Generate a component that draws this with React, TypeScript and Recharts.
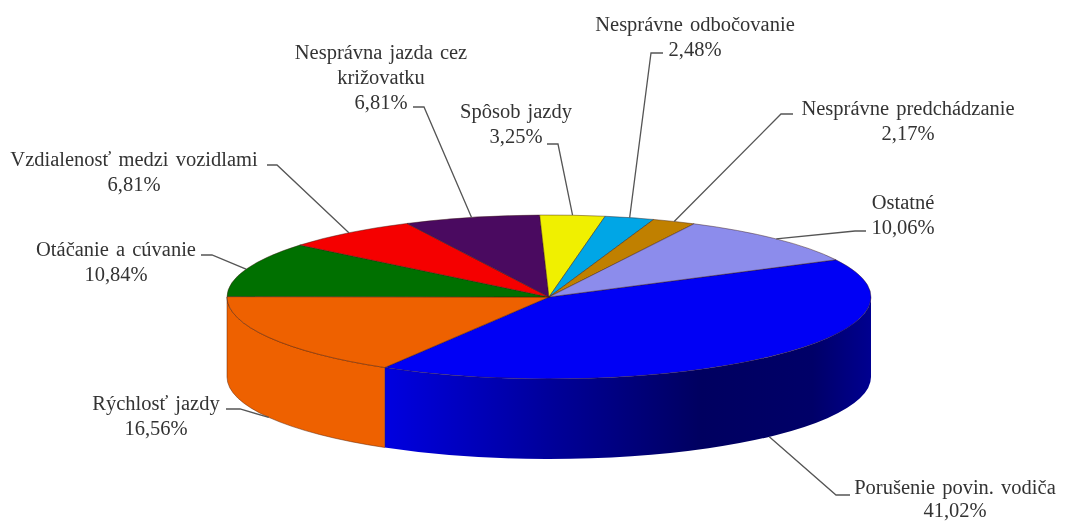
import React from "react";
import { PieChart, Pie } from "recharts";

const categories = [
  "Porušenie povin. vodiča",
  "Rýchlosť jazdy",
  "Otáčanie a cúvanie",
  "Vzdialenosť medzi vozidlami",
  "Nesprávna jazda cez|križovatku",
  "Spôsob jazdy",
  "Nesprávne odbočovanie",
  "Nesprávne predchádzanie",
  "Ostatné",
];
const shares = [41.02, 16.56, 10.84, 6.81, 6.81, 3.25, 2.48, 2.17, 10.06];
const shareLabels = ["41,02%", "16,56%", "10,84%", "6,81%", "6,81%", "3,25%", "2,48%", "2,17%", "10,06%"];
const topColors = ["#0000f5", "#ee6100", "#007000", "#f50000", "#4a0a60", "#f0f000", "#00a6e6", "#c08000", "#8c8cec"];

// label layout: text centre, first baseline, line step, then the elbow of the leader line
const labelCentreX = [955, 156, 116, 134, 381, 516, 695, 908, 903];
const labelFirstBaseline = [494, 410, 256, 166, 59, 118, 31, 115, 209];
const labelLineStep = [23, 25, 25, 25, 25, 25, 25, 25, 25];
const elbowX = [836, 240, 212, 277, 424, 558, 651, 781, 855];
const elbowY = [495, 409, 255, 165, 107, 144, 53, 114, 231];
const stubX = [850, 226, 201, 267, 413, 547, 663, 793, 866];

const WIDTH = 1066;
const HEIGHT = 522;
const CX = 549;
const CY = 297;
const RX = 322;
const RY = 82;
const DEPTH = 80;
const FONT = '"Liberation Serif", serif';
const FONT_SIZE = 20.5;
const rows = categories.map((name, i) => ({ name, value: shares[i], fill: topColors[i] }));

const rad = (d: number) => (d * Math.PI) / 180;
const ex = (cx: number, a: number, rx: number) => cx + rx * Math.cos(rad(a));
const ey = (cy: number, a: number, rx: number) => cy - rx * (RY / RX) * Math.sin(rad(a));

function TopSlice(p: any) {
  const { cx, cy, outerRadius: r, startAngle: a0, endAngle: a1, fill } = p;
  const ry = r * (RY / RX);
  const large = Math.abs(a1 - a0) > 180 ? 1 : 0;
  const d = `M${cx},${cy} L${ex(cx, a0, r)},${ey(cy, a0, r)} A${r},${ry} 0 ${large} 1 ${ex(cx, a1, r)},${ey(cy, a1, r)} Z`;
  return <path d={d} fill={fill} stroke="#3a1a10" strokeOpacity={0.55} strokeWidth={0.8} strokeLinejoin="round" />;
}

function SideSlice(p: any) {
  const { cx, cy, outerRadius: r, startAngle: a0, endAngle: a1, fill, index } = p;
  const ry = r * (RY / RX);
  const s = Math.min(a0, 0);
  const e = Math.max(a1, -180);
  if (s <= e) return <g />;
  const x0 = ex(cx, s, r), y0 = ey(cy, s, r), x1 = ex(cx, e, r), y1 = ey(cy, e, r);
  const d = `M${x0},${y0} A${r},${ry} 0 0 1 ${x1},${y1} L${x1},${y1 + DEPTH} A${r},${ry} 0 0 0 ${x0},${y0 + DEPTH} Z`;
  return (
    <path
      d={d}
      fill={index === 0 ? "url(#blueSide)" : fill}
      stroke={index === 0 ? "none" : "#5a2000"}
      strokeOpacity={0.6}
      strokeWidth={0.8}
    />
  );
}

function PieLabel(p: any) {
  const { cx, cy, outerRadius: r, midAngle, index } = p;
  const sinA = Math.sin(rad(midAngle));
  const sx = ex(cx, midAngle, r);
  const sy = ey(cy, midAngle, r) + (sinA < 0 ? DEPTH : 0);
  const lines = [...categories[index].split("|"), shareLabels[index]];
  return (
    <g>
      <polyline
        points={`${sx},${sy} ${elbowX[index]},${elbowY[index]} ${stubX[index]},${elbowY[index]}`}
        fill="none"
        stroke="#555"
        strokeWidth={1.3}
      />
      {lines.map((t, i) => (
        <text
          key={i}
          x={labelCentreX[index]}
          y={labelFirstBaseline[index] + i * labelLineStep[index]}
          textAnchor="middle"
          fontFamily={FONT}
          fontSize={FONT_SIZE}
          fill="#333"
          style={{ wordSpacing: "2px" }}
        >
          {t}
        </text>
      ))}
    </g>
  );
}

export default function App() {
  return (
    <div style={{ position: "absolute", left: 0, top: 0, width: WIDTH, height: HEIGHT, filter: "blur(0.5px)" }}>
      <PieChart width={WIDTH} height={HEIGHT} margin={{ top: 0, right: 0, bottom: 0, left: 0 }}>
        <defs>
          <linearGradient id="blueSide" gradientUnits="userSpaceOnUse" x1={385} y1={0} x2={871} y2={0}>
            <stop offset="0%" stopColor="#0000e0" />
            <stop offset="35%" stopColor="#000098" />
            <stop offset="65%" stopColor="#000060" />
            <stop offset="88%" stopColor="#000068" />
            <stop offset="100%" stopColor="#000090" />
          </linearGradient>
        </defs>
        <Pie
          data={rows}
          dataKey="value"
          nameKey="name"
          cx={CX}
          cy={CY}
          innerRadius={0}
          outerRadius={RX}
          startAngle={27}
          endAngle={-333}
          shape={SideSlice}
          label={false}
          labelLine={false}
          isAnimationActive={false}
        />
        <Pie
          data={rows}
          dataKey="value"
          nameKey="name"
          cx={CX}
          cy={CY}
          innerRadius={0}
          outerRadius={RX}
          startAngle={27}
          endAngle={-333}
          shape={TopSlice}
          label={PieLabel}
          labelLine={false}
          isAnimationActive={false}
        />
      </PieChart>
    </div>
  );
}
